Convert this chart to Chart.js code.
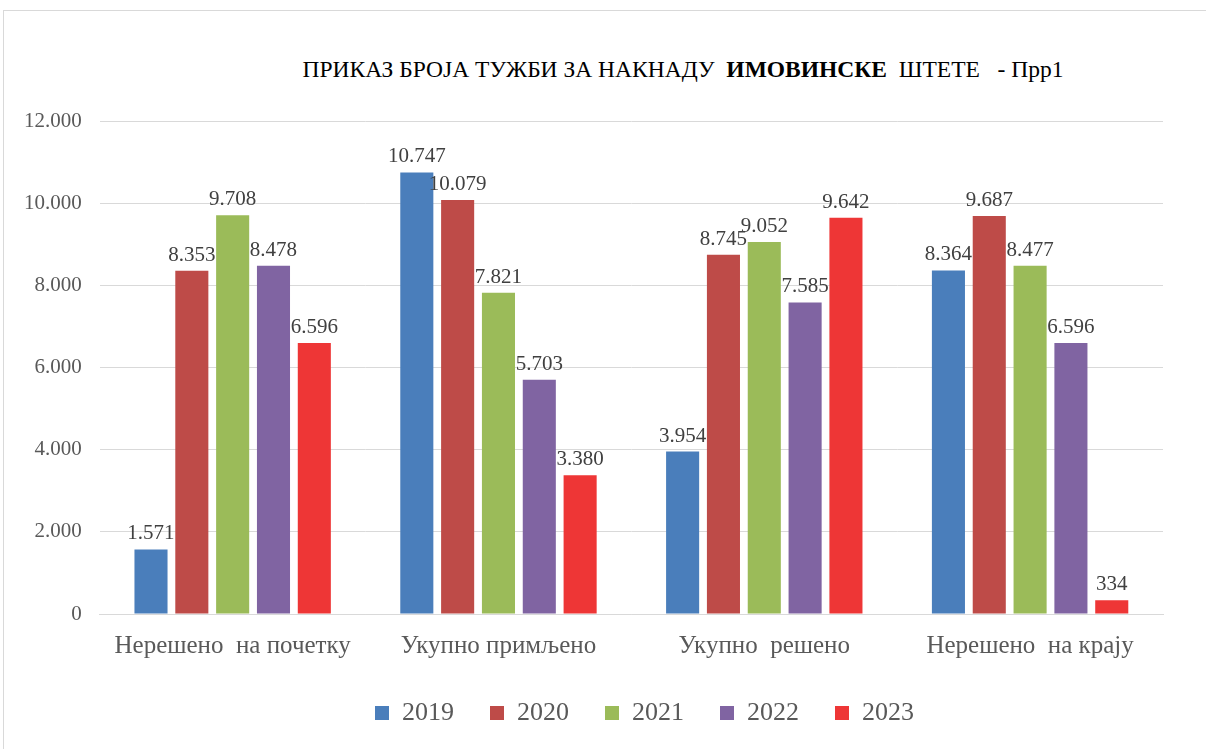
<!DOCTYPE html>
<html>
<head>
<meta charset="utf-8">
<script src="https://cdn.jsdelivr.net/npm/chart.js@4/dist/chart.umd.min.js"></script>
<style>
  body { margin: 0; background: #fff; }
  #wrap { position: relative; width: 1206px; height: 749px; overflow: hidden; }
  #frame { position: absolute; left: 3px; top: 10px; width: 1220px; height: 760px; border: 1px solid #d9d9d9; box-sizing: border-box; }
  #title { position: absolute; left: 0; width: 1366px; top: 56px; text-align: center; font-family: "Times New Roman", "Liberation Serif", serif; font-size: 23.5px; color: #000; white-space: pre; }
  canvas { position: absolute; left: 0; top: 0; }
</style>
</head>
<body>
<div id="wrap">
  <div id="frame"></div>
  <div id="title">ПРИКАЗ БРОЈА ТУЖБИ ЗА НАКНАДУ  <b>ИМОВИНСКЕ</b>  ШТЕТЕ   - Прр1</div>
  <canvas id="chart" width="1206" height="749"></canvas>
</div>
<script>
const categories = ["Нерешено  на почетку", "Укупно примљено", "Укупно  решено", "Нерешено  на крају"];
const years = ["2019", "2020", "2021", "2022", "2023"];
const v2019 = [1571, 10747, 3954, 8364];
const v2020 = [8353, 10079, 8745, 9687];
const v2021 = [9708, 7821, 9052, 8477];
const v2022 = [8478, 5703, 7585, 6596];
const v2023 = [6596, 3380, 9642, 334];
const colors = ["#4a7ebb", "#be4b48", "#9bbb59", "#8064a2", "#ee3636"];

const serif = "'Times New Roman', 'Liberation Serif', serif";

function fmt(n) {
  return String(n).replace(/\B(?=(\d{3})+(?!\d))/g, ".");
}

const valueLabels = {
  id: "valueLabels",
  afterDatasetsDraw(chart) {
    const ctx = chart.ctx;
    ctx.save();
    ctx.font = "21px " + serif;
    ctx.fillStyle = "#404040";
    ctx.textAlign = "center";
    ctx.textBaseline = "bottom";
    chart.data.datasets.forEach((ds, i) => {
      const meta = chart.getDatasetMeta(i);
      meta.data.forEach((bar, j) => {
        ctx.fillText(fmt(ds.data[j]), bar.x, bar.y - 5);
      });
    });
    ctx.restore();
  }
};

// the legend in the picture sits right of the plot centre
const legendShift = {
  id: "legendShift",
  afterLayout(chart) {
    chart.legend.left += 60;
    chart.legend.right += 60;
  }
};

const series = [v2019, v2020, v2021, v2022, v2023];
const datasets = series.map((data, i) => ({
  label: years[i],
  data: data,
  backgroundColor: colors[i],
  categoryPercentage: 0.768,
  barPercentage: 0.81
}));

new Chart(document.getElementById("chart").getContext("2d"), {
  type: "bar",
  data: { labels: categories, datasets: datasets },
  plugins: [valueLabels, legendShift],
  options: {
    responsive: false,
    animation: false,
    layout: { padding: { top: 121, left: 6, right: 43, bottom: 13 } },
    plugins: {
      tooltip: { enabled: false },
      legend: {
        position: "bottom",
        labels: {
          font: { family: serif, size: 26 },
          color: "#595959",
          boxWidth: 14,
          boxHeight: 14,
          padding: 36
        }
      }
    },
    scales: {
      x: {
        grid: { display: false },
        border: { color: "#d9d9d9", width: 1 },
        afterFit: (axis) => { axis.height -= 6; },
        ticks: {
          font: { family: serif, size: 25 },
          color: "#595959",
          padding: 9,
          maxRotation: 0
        }
      },
      y: {
        min: 0,
        max: 12000,
        grid: { color: "#d9d9d9", drawTicks: false },
        border: { display: false },
        ticks: {
          stepSize: 2000,
          font: { family: serif, size: 21 },
          color: "#595959",
          padding: 18,
          callback: (v) => fmt(v)
        }
      }
    }
  }
});
</script>
</body>
</html>
